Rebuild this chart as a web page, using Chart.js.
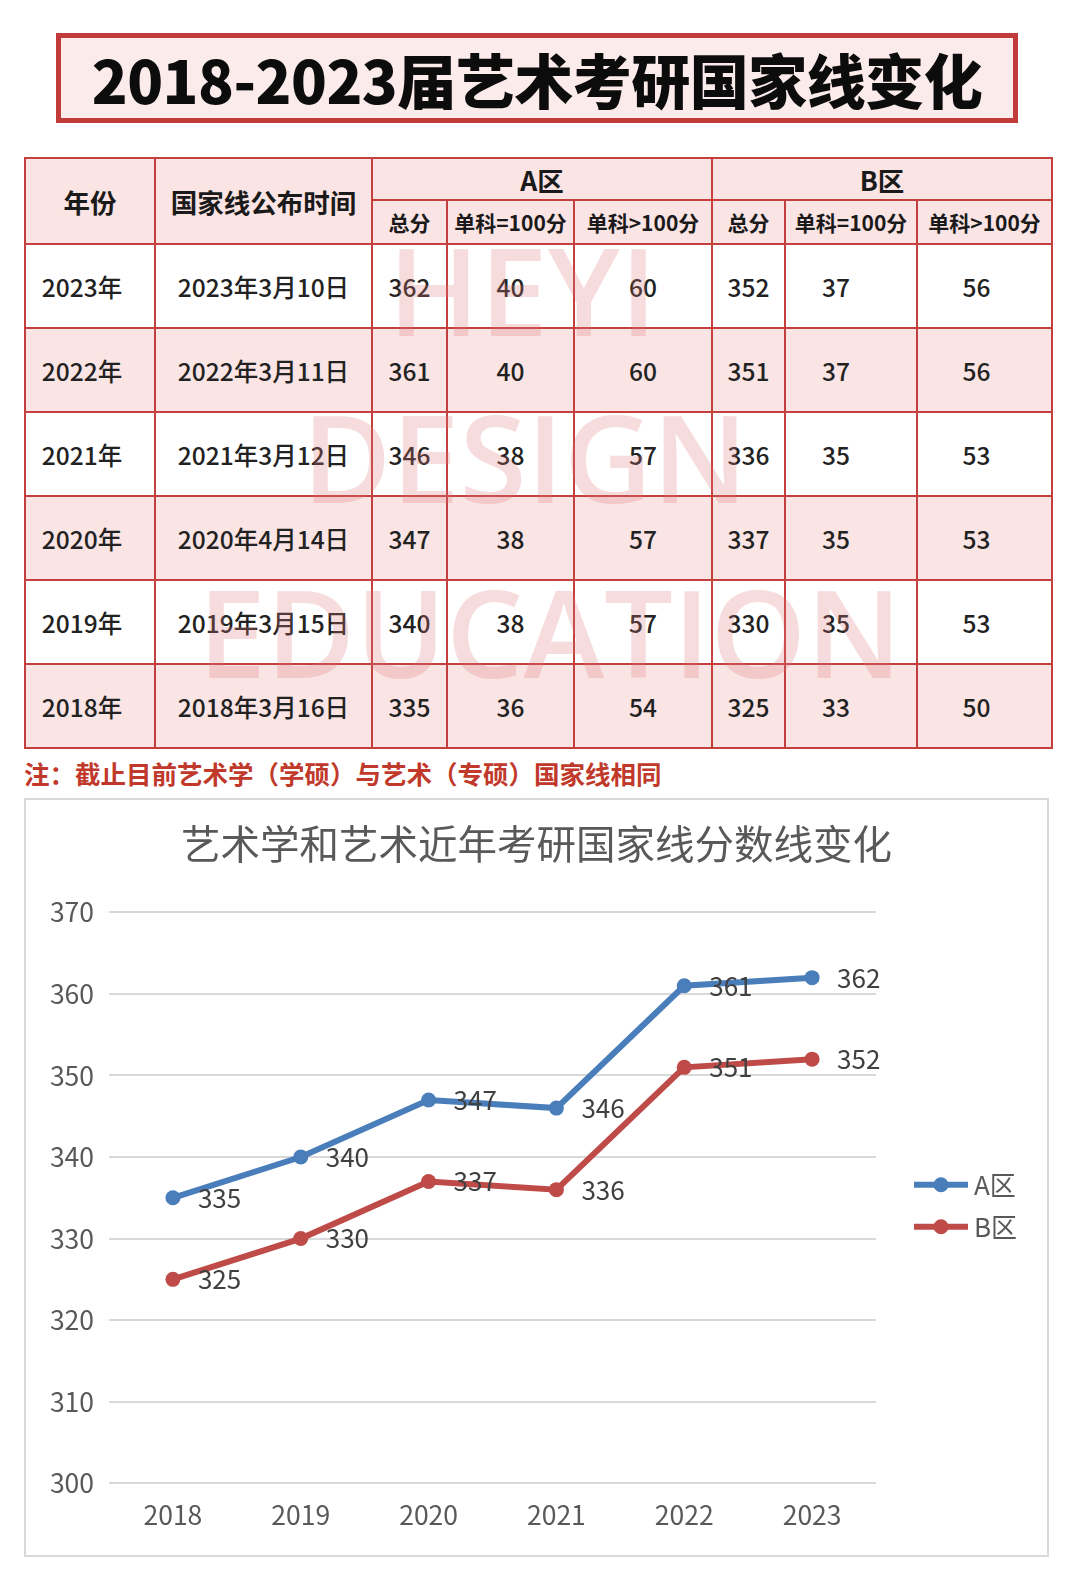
<!DOCTYPE html>
<html lang="zh-CN">
<head>
<meta charset="utf-8">
<title>2018-2023届艺术考研国家线变化</title>
<script src="https://cdn.jsdelivr.net/npm/chart.js@4.4.1/dist/chart.umd.min.js"></script>
<style>
  html, body { margin: 0; padding: 0; background: #fff; }
  body { width: 1080px; height: 1582px; position: relative; overflow: hidden;
         font-family: "Noto Sans CJK SC", "Noto Sans", sans-serif; color: #222; }
  .title-box { position: absolute; left: 56px; top: 33px; width: 952px; height: 80px;
               border: 5px solid #c23b3b; background: #fcebeb;
               display: flex; align-items: center; justify-content: center; }
  .title-box h1 { margin: 0; font-size: 59px; font-weight: 900; color: #0c0c0c; letter-spacing: -0.5px; }
  table.lines { position: absolute; left: 24px; top: 157px; width: 1027px;
                border-collapse: collapse; table-layout: fixed; }
  table.lines td { border: 2px solid #c4403f; text-align: center; padding: 0; }
  table.lines tr.h1 td { height: 40px; }
  table.lines tr.h2 td { height: 42px; }
  table.lines tr.row td { height: 82px; font-size: 24.5px; font-weight: 500; }
  table.lines tr.row td.c0 { padding-right: 16px; }
  table.lines tr.row td.c6 { padding-right: 30px; }
  table.lines tr.row td.c7 { padding-right: 16px; }
  .pink { background: #fae4e4; }
  .head { font-weight: 700; font-size: 26.5px; color: #1a1a1a; }
  .sub { font-weight: 700; font-size: 21px; color: #1a1a1a; }
  .wm { position: absolute; color: rgba(222, 120, 120, 0.26); font-family: "Open Sans", sans-serif;
        font-weight: 600; font-size: 122px; line-height: 1; pointer-events: none; }
  .note { position: absolute; left: 24px; top: 754px; font-size: 25.5px; font-weight: 700; color: #c0392b; }
  .chart-box { position: absolute; left: 24px; top: 798px; width: 1021px; height: 755px;
               border: 2px solid #d9d9d9; }
</style>
</head>
<body>
<div class="title-box"><h1>2018-2023届艺术考研国家线变化</h1></div>

<table class="lines" id="lines">
  <colgroup>
    <col style="width:130px"><col style="width:217px"><col style="width:75px"><col style="width:127px">
    <col style="width:138px"><col style="width:73px"><col style="width:132px"><col style="width:135px">
  </colgroup>
  <tbody id="tbody"></tbody>
</table>

<div class="wm" style="left:388px; top:228px;">HEYI</div>
<div class="wm" style="left:302px; top:395px;">DESIGN</div>
<div class="wm" style="left:198px; top:570px;">EDUCATION</div>

<div class="note">注：截止目前艺术学（学硕）与艺术（专硕）国家线相同</div>

<div class="chart-box"><canvas id="lineChart" width="1021" height="755"></canvas></div>

<script>
// ====================================
// DATA
// ====================================
const tableYears = ['2023年', '2022年', '2021年', '2020年', '2019年', '2018年'];
const releaseDates = ['2023年3月10日', '2022年3月11日', '2021年3月12日', '2020年4月14日', '2019年3月15日', '2018年3月16日'];
const aTotal = [362, 361, 346, 347, 340, 335];
const aSingleEq100 = [40, 40, 38, 38, 38, 36];
const aSingleOver100 = [60, 60, 57, 57, 57, 54];
const bTotal = [352, 351, 336, 337, 330, 325];
const bSingleEq100 = [37, 37, 35, 35, 35, 33];
const bSingleOver100 = [56, 56, 53, 53, 53, 50];

const chartYears = ['2018', '2019', '2020', '2021', '2022', '2023'];
const seriesNames = ['A区', 'B区'];
const scoreA = [335, 340, 347, 346, 361, 362];
const scoreB = [325, 330, 337, 336, 351, 352];
const yMin = 300;
const yMax = 370;
const yStep = 10;

// ====================================
// TABLE
// ====================================
function buildTable() {
  const tbody = document.getElementById('tbody');
  let html = '';
  html += '<tr class="h1 pink"><td rowspan="2" class="head">年份</td><td rowspan="2" class="head">国家线公布时间</td>' +
          '<td colspan="3" class="head">A区</td><td colspan="3" class="head">B区</td></tr>';
  html += '<tr class="h2 pink"><td class="sub">总分</td><td class="sub">单科=100分</td><td class="sub">单科&gt;100分</td>' +
          '<td class="sub">总分</td><td class="sub">单科=100分</td><td class="sub">单科&gt;100分</td></tr>';
  tableYears.forEach((y, i) => {
    const cls = i % 2 === 1 ? 'row pink' : 'row';
    const cells = [y, releaseDates[i], aTotal[i], aSingleEq100[i], aSingleOver100[i],
                   bTotal[i], bSingleEq100[i], bSingleOver100[i]];
    html += `<tr class="${cls}">` + cells.map((c, j) => `<td class="c${j}">${c}</td>`).join('') + '</tr>';
  });
  tbody.innerHTML = html;
}
buildTable();

// ====================================
// CHART
// ====================================
const BLUE = '#4a7ebb';
const RED = '#be4b48';
const TEXT = '#595959';
const FONT = '"Noto Sans CJK SC", "Noto Sans", sans-serif';

// value labels to the right of each point
const valueLabels = {
  id: 'valueLabels',
  afterDatasetsDraw(chart) {
    const ctx = chart.ctx;
    ctx.save();
    ctx.font = '26px ' + FONT;
    ctx.fillStyle = '#404040';
    ctx.textAlign = 'left';
    ctx.textBaseline = 'middle';
    chart.data.datasets.forEach((ds, di) => {
      const meta = chart.getDatasetMeta(di);
      meta.data.forEach((pt, i) => {
        ctx.fillText(String(ds.data[i]), pt.x + 25, pt.y);
      });
    });
    ctx.restore();
  }
};

// legend: line + marker, to the right of the plot
const sideLegend = {
  id: 'sideLegend',
  afterDraw(chart) {
    const ctx = chart.ctx;
    const area = chart.chartArea;
    const x0 = area.right + 38;
    const midY = (area.top + area.bottom) / 2 - 13;
    ctx.save();
    chart.data.datasets.forEach((ds, i) => {
      const y = midY + i * 42;
      ctx.strokeStyle = ds.borderColor;
      ctx.lineWidth = 6;
      ctx.beginPath();
      ctx.moveTo(x0, y);
      ctx.lineTo(x0 + 54, y);
      ctx.stroke();
      ctx.fillStyle = ds.borderColor;
      ctx.beginPath();
      ctx.arc(x0 + 27, y, 7.5, 0, Math.PI * 2);
      ctx.fill();
      ctx.fillStyle = TEXT;
      ctx.font = '26px ' + FONT;
      ctx.textAlign = 'left';
      ctx.textBaseline = 'middle';
      ctx.fillText(ds.label, x0 + 60, y);
    });
    ctx.restore();
  }
};

new Chart(document.getElementById('lineChart').getContext('2d'), {
  type: 'line',
  data: {
    labels: chartYears,
    datasets: [
      { label: seriesNames[0], data: scoreA, borderColor: BLUE, backgroundColor: BLUE,
        borderWidth: 6, pointRadius: 7.5, pointBackgroundColor: BLUE, pointBorderWidth: 0, tension: 0 },
      { label: seriesNames[1], data: scoreB, borderColor: RED, backgroundColor: RED,
        borderWidth: 6, pointRadius: 7.5, pointBackgroundColor: RED, pointBorderWidth: 0, tension: 0 }
    ]
  },
  options: {
    responsive: false,
    animation: false,
    layout: { padding: { left: 0, right: 0, top: 0, bottom: 8 } },
    plugins: {
      legend: { display: false },
      tooltip: { enabled: false },
      title: {
        display: true,
        text: '艺术学和艺术近年考研国家线分数线变化',
        color: TEXT,
        font: { family: FONT, size: 39.5, weight: 'normal' },
        padding: { top: 20, bottom: 45 }
      }
    },
    scales: {
      x: {
        offset: true,
        grid: { display: false, drawTicks: false },
        border: { display: false },
        ticks: { color: TEXT, padding: 16, font: { family: FONT, size: 26.5 } }
      },
      y: {
        min: yMin,
        max: yMax,
        afterFit(scale) { scale.width = 83; },
        grid: { color: '#d9d9d9', lineWidth: 2, drawTicks: false },
        border: { display: false },
        ticks: { stepSize: yStep, color: TEXT, padding: 15, font: { family: FONT, size: 26.5 } }
      },
      // empty right-hand axis that keeps room for the legend
      legendSpace: {
        type: 'linear',
        position: 'right',
        afterFit(scale) { scale.width = 171; },
        grid: { display: false, drawTicks: false },
        border: { display: false },
        ticks: { display: false }
      }
    }
  },
  plugins: [valueLabels, sideLegend]
});
</script>
</body>
</html>
